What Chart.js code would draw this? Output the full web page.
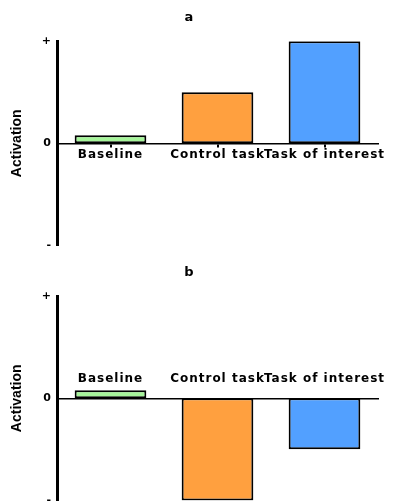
<!DOCTYPE html>
<html lang="en">
<head>
    <meta charset="UTF-8"/>
    <title>Activation bars</title>
    <script src="https://cdn.jsdelivr.net/npm/chart.js"></script>
    <style>
        html, body {
            margin: 0;
            padding: 0;
            background: #fff;
            width: 393px;
            height: 503px;
            overflow: hidden;
            position: relative;
        }
        .panel {
            position: absolute;
            left: 0;
            width: 393px;
            height: 258px;
        }
        #panelA { top: 0; }
        #panelB { top: 255px; }
    </style>
</head>
<body>
<div class="panel" id="panelA"><canvas id="chartA"></canvas></div>
<div class="panel" id="panelB"><canvas id="chartB"></canvas></div>

<script>
    // categories and values (-1 = "-", 0 = "0", 1 = "+")
    const categories = ['Baseline', 'Control task', 'Task of interest'];
    const valuesA = [0.08, 0.5, 1.0];
    const valuesB = [0.08, -1.0, -0.5];
    const tickLabels = { '-1': '-', '0': '0', '1': '+' };
    const barColors = ['#a6f59a', '#ffa03f', '#52a0ff'];

    // wider tracking on the category labels only (they're drawn after the bars, z = 1)
    const spacingPlugin = {
        id: 'spacing',
        afterDatasetsDraw(chart) { chart.ctx.letterSpacing = '1px'; },
        afterDraw(chart) { chart.ctx.letterSpacing = '0px'; }
    };

    function makeChart(canvasId, title, values, labelsAbove) {
        return new Chart(document.getElementById(canvasId), {
            type: 'bar',
            data: {
                labels: categories,
                datasets: [{
                    data: values,
                    backgroundColor: barColors,
                    borderColor: '#000',
                    borderWidth: 2,
                    borderSkipped: false,
                    barPercentage: 0.67,
                    categoryPercentage: 1
                }]
            },
            options: {
                responsive: true,
                maintainAspectRatio: false,
                animation: false,
                layout: { padding: { left: 0, right: 15, top: 0, bottom: 11 } },
                scales: {
                    x: {
                        position: { y: 0 },
                        grid: {
                            display: true,
                            drawOnChartArea: false,
                            drawTicks: !labelsAbove,
                            tickLength: 3,
                            offset: false,
                            color: '#000',
                            lineWidth: 2
                        },
                        border: { display: true, color: '#000', width: 1.5 },
                        ticks: {
                            z: 1,
                            color: '#000',
                            autoSkip: false,
                            maxRotation: 0,
                            minRotation: 0,
                            padding: labelsAbove ? -27 : 1,
                            font: { family: 'DejaVu Sans, sans-serif', size: 12, weight: 'bold' }
                        }
                    },
                    y: {
                        min: -1,
                        max: 1,
                        afterFit(scale) { scale.width = 57; },
                        grid: { display: false, drawTicks: false },
                        border: { display: true, color: '#000', width: 3 },
                        ticks: {
                            stepSize: 1,
                            padding: 6,
                            color: '#000',
                            font: { family: 'DejaVu Sans, sans-serif', size: 11, weight: 'bold' },
                            callback: v => tickLabels[String(v)]
                        },
                        title: {
                            display: true,
                            text: 'Activation',
                            color: '#000',
                            padding: { top: 9, bottom: 0 },
                            font: { family: 'Liberation Sans Narrow, Liberation Sans, sans-serif', size: 14, weight: 'bold' }
                        }
                    }
                },
                plugins: {
                    legend: { display: false },
                    tooltip: { enabled: false },
                    title: {
                        display: true,
                        text: title,
                        color: '#000',
                        padding: { top: 10, bottom: 15.6 },
                        font: { family: 'DejaVu Sans, sans-serif', size: 13, weight: 'bold' }
                    }
                }
            },
            plugins: [spacingPlugin]
        });
    }

    makeChart('chartA', 'a', valuesA, false);
    makeChart('chartB', 'b', valuesB, true);
</script>
</body>
</html>
